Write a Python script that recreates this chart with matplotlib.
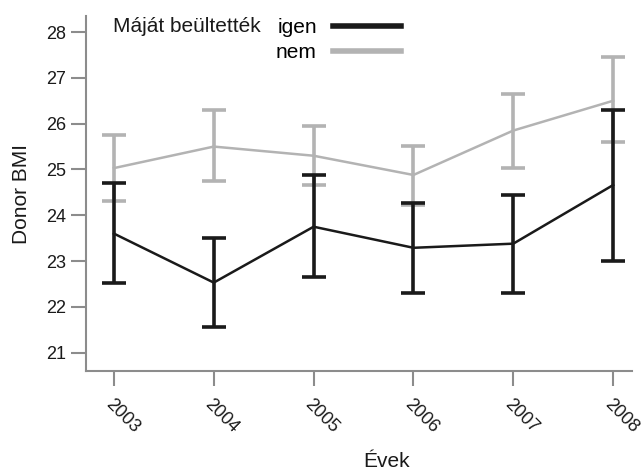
import numpy as np
import matplotlib.pyplot as plt
from matplotlib.lines import Line2D

plt.rcParams['font.family'] = ['Liberation Sans', 'DejaVu Sans']

# =============================================================================
# Data
# =============================================================================
years = [2003, 2004, 2005, 2006, 2007, 2008]

igen_mean  = [23.60, 22.53, 23.75, 23.29, 23.38, 24.66]
igen_upper = [24.70, 23.51, 24.87, 24.27, 24.45, 26.29]
igen_lower = [22.53, 21.55, 22.66, 22.31, 22.31, 23.00]

nem_mean  = [25.03, 25.50, 25.30, 24.88, 25.85, 26.50]
nem_upper = [25.75, 26.30, 25.96, 25.52, 26.65, 27.45]
nem_lower = [24.32, 24.74, 24.66, 24.22, 25.04, 25.60]

BLACK = '#1a1a1a'
GRAY  = '#b3b3b3'
AXIS  = '#8c8c8c'
FS_TICK = 13
FS_LAB  = 15

# =============================================================================
# Plot
# =============================================================================
fig = plt.figure(figsize=(6.44, 4.72), dpi=100)
ax = fig.add_axes([0.1335, 0.214, 0.848, 0.752])

for mean, lo, hi, col, z in [(nem_mean, nem_lower, nem_upper, GRAY, 2),
                             (igen_mean, igen_lower, igen_upper, BLACK, 3)]:
    mean = np.array(mean)
    yerr = [mean - np.array(lo), np.array(hi) - mean]
    ax.errorbar(years, mean, yerr=yerr, color=col, lw=1.8, elinewidth=2.6,
                capsize=8.3, capthick=2.6, zorder=z)

ax.set_xlim(2002.72, 2008.19)
ax.set_ylim(20.6, 28.35)
ax.set_xticks(years)
ax.set_xticklabels([str(y) for y in years], rotation=-45, ha='left', va='top',
                   rotation_mode='anchor')
ax.set_yticks(range(21, 29))

for s in ['top', 'right']:
    ax.spines[s].set_visible(False)
for s in ['left', 'bottom']:
    ax.spines[s].set_color(AXIS)
    ax.spines[s].set_linewidth(1.5)
ax.tick_params(colors=AXIS, width=1.5, length=11, labelsize=FS_TICK,
               labelcolor='#1a1a1a')
ax.tick_params(axis='x', pad=7)

ax.set_xlabel('Évek', fontsize=FS_LAB, color='#1a1a1a', va='center')
ax.xaxis.set_label_coords(0.551, -0.256)
ax.set_ylabel('Donor BMI', fontsize=FS_LAB, color='#1a1a1a', va='center')
ax.yaxis.set_label_coords(-0.118, 0.5)

# legend
handles = [Line2D([], [], color=BLACK, lw=4), Line2D([], [], color=GRAY, lw=4)]
fig.legend(handles, ['igen', 'nem'], loc='upper left',
           bbox_to_anchor=(276 / 644, 1 - 18 / 472), borderpad=0, borderaxespad=0,
           frameon=False, markerfirst=False, fontsize=FS_LAB, handlelength=3.3,
           handletextpad=0.75, labelspacing=0.3)
fig.text(113 / 644, 1 - 26 / 472, 'Máját beültették', fontsize=FS_LAB,
         va='center', ha='left', color='#1a1a1a')

fig.savefig('out.png', dpi=100, facecolor='white')
